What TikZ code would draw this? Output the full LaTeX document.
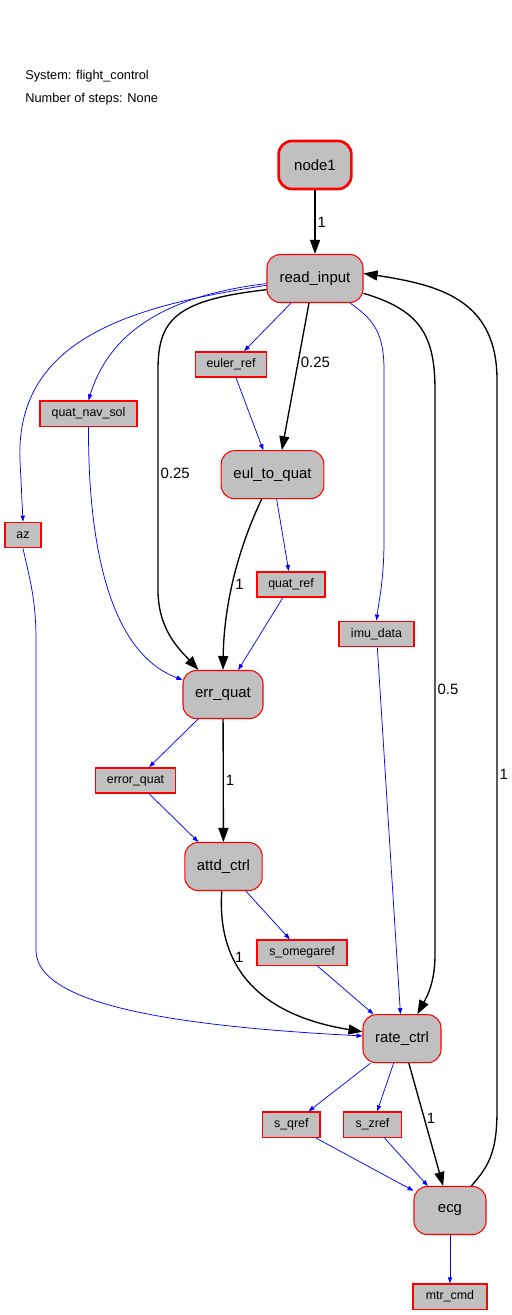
\documentclass[tikz,border=0pt]{standalone}
\usepackage{fontspec}
\setmainfont{Liberation Sans}
\usetikzlibrary{arrows.meta}
\definecolor{nodegray}{RGB}{192,192,192}

\begin{document}
\begin{tikzpicture}[
  x=0.75pt, y=-0.75pt,
  proc/.style={draw=red, line width=0.8pt, fill=nodegray, rounded corners=10pt,
               minimum height=36pt, minimum width=#1, inner sep=0pt,
               font=\fontsize{11.2}{13}\selectfont},
  var/.style={draw=red, line width=1.1pt, fill=nodegray, minimum height=19pt,
              minimum width=#1, inner sep=0pt, font=\fontsize{9.3}{11}\selectfont},
  flow/.style={-{Triangle[length=10.5pt,width=7.5pt]}, line width=1pt},
  dep/.style={-{Triangle[length=4.5pt,width=3.2pt]}, blue, line width=0.55pt},
  lbl/.style={font=\fontsize{11.2}{13}\selectfont, anchor=west, inner sep=1.5pt},
  info/.style={anchor=west, inner sep=0pt, font=\fontsize{9.6}{11}\selectfont}
]
  \useasboundingbox (0,0) rectangle (511,1315);

  \node[info] (sysname) at (25,76) {System: flight\_control};
  \node[info] (nsteps) at (25,99) {Number of steps: None};

  % processes
  \node[proc=54.5pt, line width=2pt] (node1) at (315,165) {node1};
  \node[proc=72pt] (ri) at (315,278.5) {read\_input};
  \node[proc=77pt] (etq) at (272.5,474.7) {eul\_to\_quat};
  \node[proc=60pt] (eq) at (223,694.5) {err\_quat};
  \node[proc=58pt] (ac) at (223.5,866.5) {attd\_ctrl};
  \node[proc=58.5pt] (rc) at (402,1038.7) {rate\_ctrl};
  \node[proc=54pt] (ecg) at (450,1210.5) {ecg};

  % variables
  \node[var=53.3pt] (er) at (231,364.5) {euler\_ref};
  \node[var=73pt] (qns) at (88.5,413.7) {quat\_nav\_sol};
  \node[var=27pt] (az) at (23,535) {az};
  \node[var=51.2pt] (qr) at (291,584.5) {quat\_ref};
  \node[var=56.5pt] (imu) at (376.5,634) {imu\_data};
  \node[var=60pt] (erq) at (135.5,780.5) {error\_quat};
  \node[var=67.3pt] (som) at (302,952.7) {s\_omegaref};
  \node[var=43pt] (sq) at (291.3,1124.7) {s\_qref};
  \node[var=43.3pt] (sz) at (372.5,1124.7) {s\_zref};
  \node[var=55.3pt] (mc) at (450,1296.7) {mtr\_cmd};

  % control flow
  \draw[flow] (node1) -- node[lbl]{1} (ri);
  \draw[flow] ([xshift=-4.5pt]ri.south) -- node[lbl, pos=0.4]{0.25} ([xshift=7pt]etq.north);
  \draw[flow] (ri.193) .. controls (175,300) and (158,320) .. (158,370)
    -- node[lbl, pos=0.47]{0.25} (158,590) .. controls (158,630) and (180,650) .. (eq.135);
  \draw[flow] (ri.-17) .. controls (420,310) and (435,335) .. (435,390)
    -- node[lbl, pos=0.53]{0.5} (435,955) .. controls (435,985) and (425,1000) .. (rc.58);
  \draw[flow] (ecg.49) .. controls (490,1165) and (497,1150) .. (497,1110)
    -- node[lbl, pos=0.46]{1} (497,380) .. controls (497,300) and (440,285) .. (ri.6);
  \draw[flow] (etq.-114) .. controls (240,545) and (224,600) .. node[lbl, pos=0.55]{1} (eq.north);
  \draw[flow] (eq) -- node[lbl]{1} (ac);
  \draw[flow] (ac.-94) .. controls (215,990) and (290,1020) .. node[lbl, pos=0.27]{1} (rc.170);
  \draw[flow] (rc) -- node[lbl, pos=0.45]{1} (ecg);

  % data
  \draw[dep] (ri) -- (er);
  \draw[dep] (ri.188) .. controls (140,305) and (15,335) .. (20,460) -- (az.north);
  \draw[dep] (ri.186) .. controls (170,295) and (110,330) .. (qns.north);
  \draw[dep] (ri.-35) .. controls (375,320) and (384,335) .. (384,370) -- (384,540)
    .. controls (384,580) and (379,600) .. (imu.north);
  \draw[dep] (er) -- (etq);
  \draw[dep] (etq) -- (qr);
  \draw[dep] (qr) -- (eq);
  \draw[dep] (qns.south) .. controls (88,560) and (115,655) .. (eq.160);
  \draw[dep] (az.south) .. controls (30,580) and (36,600) .. (36,640) -- (36,950)
    .. controls (36,1000) and (150,1025) .. (rc.176);
  \draw[dep] (imu) -- (rc);
  \draw[dep] (eq) -- (erq);
  \draw[dep] (erq) -- (ac);
  \draw[dep] (ac) -- (som);
  \draw[dep] (som) -- (rc);
  \draw[dep] (rc) -- (sq);
  \draw[dep] (rc) -- (sz);
  \draw[dep] (sq) -- (ecg);
  \draw[dep] (sz) -- (ecg);
  \draw[dep] (ecg) -- (mc);
\end{tikzpicture}
\end{document}
